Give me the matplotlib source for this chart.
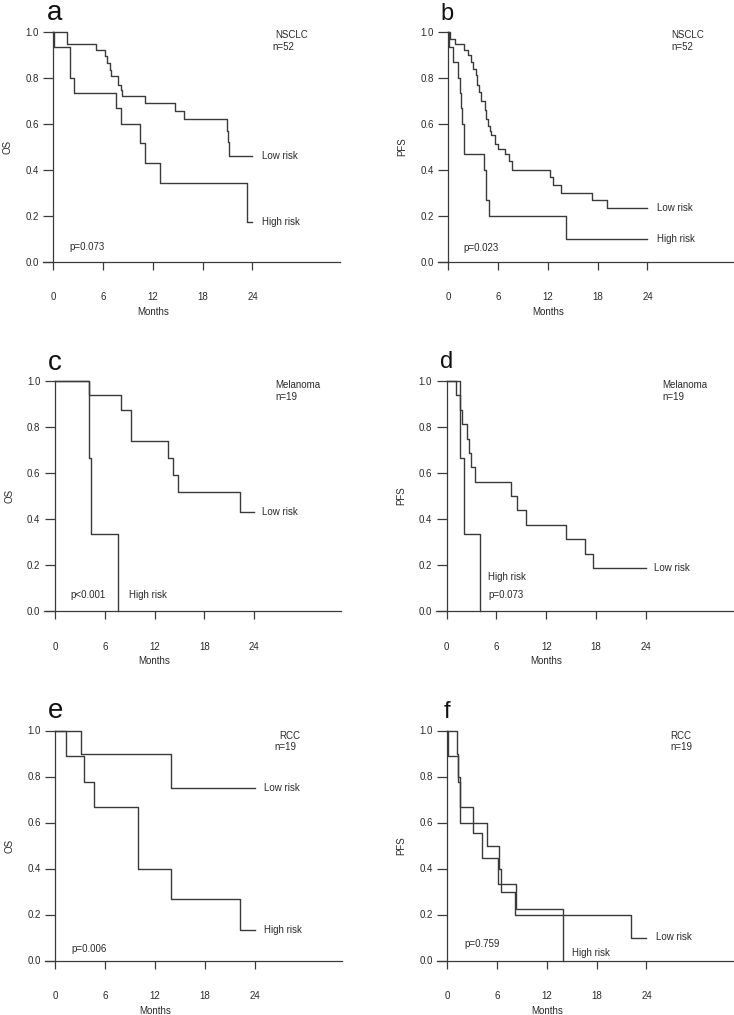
import matplotlib
matplotlib.use('Agg')
import matplotlib.pyplot as plt

plt.rcParams['font.family'] = ['Liberation Sans', 'DejaVu Sans']

# Kaplan-Meier step data (months, survival after each event)
a_low_t = [1.6, 5.1, 6.2, 6.5, 6.8, 7.0, 7.8, 8.1, 8.3, 11.0, 14.7, 15.7, 20.9, 21.0, 21.2]
a_low_s = [0.945, 0.92, 0.895, 0.865, 0.835, 0.808, 0.77, 0.745, 0.72, 0.69, 0.655, 0.62, 0.57, 0.52, 0.46]
a_high_t = [0.05, 2.0, 2.5, 7.55, 8.1, 10.4, 11.0, 12.9, 23.4]
a_high_s = [0.933, 0.80, 0.733, 0.667, 0.60, 0.515, 0.43, 0.343, 0.171]

b_low_t = [0.2, 0.8, 1.9, 2.4, 2.7, 3.0, 3.3, 3.4, 3.75, 4.0, 4.4, 4.55, 4.8, 5.0, 5.2, 5.6,
           6.05, 6.85, 7.26, 7.66, 12.3, 12.6, 13.6, 17.3, 19.1]
b_low_s = [0.97, 0.945, 0.92, 0.90, 0.87, 0.84, 0.81, 0.77, 0.74, 0.70, 0.66, 0.62, 0.59, 0.57,
           0.55, 0.51, 0.49, 0.47, 0.44, 0.40, 0.37, 0.335, 0.30, 0.27, 0.235]
b_high_t = [0.1, 0.6, 1.2, 1.45, 1.5, 1.7, 1.9, 4.35, 4.5, 4.96, 14.2]
b_high_s = [0.933, 0.867, 0.80, 0.733, 0.667, 0.60, 0.467, 0.40, 0.267, 0.20, 0.10]

c_low_t = [4.1, 8.0, 9.16, 13.6, 14.26, 14.86, 22.3]
c_low_s = [0.938, 0.875, 0.74, 0.665, 0.59, 0.516, 0.43]
c_high_t = [4.1, 4.3, 7.6]
c_high_s = [0.667, 0.333, 0.0]

d_low_t = [1.1, 1.6, 1.9, 2.5, 2.7, 2.9, 3.4, 7.8, 8.5, 9.5, 14.4, 16.7, 17.6]
d_low_s = [0.9375, 0.875, 0.8125, 0.75, 0.6875, 0.625, 0.5625, 0.5, 0.4375, 0.375, 0.3125, 0.25, 0.1875]
d_high_t = [1.6, 2.1, 4.0]
d_high_s = [0.667, 0.333, 0.0]

e_low_t = [3.1, 13.9]
e_low_s = [0.90, 0.75]
e_high_t = [1.3, 3.4, 4.6, 10.0, 13.9, 22.2]
e_high_s = [0.889, 0.778, 0.667, 0.40, 0.267, 0.133]

f_low_t = [1.2, 1.35, 1.5, 4.76, 6.25, 6.45, 8.19, 22.1]
f_low_s = [0.9, 0.8, 0.6, 0.5, 0.4, 0.3, 0.2, 0.1]
f_high_t = [0.1, 1.33, 1.53, 3.15, 4.15, 6.17, 8.27, 13.9]
f_high_s = [0.889, 0.778, 0.667, 0.556, 0.444, 0.333, 0.222, 0.0]

end_time = 24.0
month_ticks = [0, 6, 12, 18, 24]
surv_ticks = [0.0, 0.2, 0.4, 0.6, 0.8, 1.0]

panels = [
    # letter, ylabel, cohort, n, p, curves, p pos, label positions
    dict(letter='a', ylab='OS', cohort='NSCLC', n='n=52', p='p=0.073',
         low=(a_low_t, a_low_s), high=(a_high_t, a_high_s),
         ppos=(1.9, 0.065), cpos=(26.7, 0.986), npos=(26.4, 0.934),
         lowpos=(25.1, 0.46), highpos=(25.1, 0.171),
         left=42.5, origin_y=261.7, lsize=20, lx=46.7, ly=20),
    dict(letter='b', ylab='PFS', cohort='NSCLC', n='n=52', p='p=0.023',
         low=(b_low_t, b_low_s), high=(b_high_t, b_high_s),
         ppos=(1.8, 0.06), cpos=(26.9, 0.986), npos=(26.9, 0.934),
         lowpos=(25.1, 0.235), highpos=(25.1, 0.099),
         left=437.5, origin_y=261.7, lsize=17, lx=440, ly=20),
    dict(letter='c', ylab='OS', cohort='Melanoma', n='n=19', p='p<0.001',
         low=(c_low_t, c_low_s), high=(c_high_t, c_high_s),
         ppos=(1.8, 0.07), cpos=(26.5, 0.981), npos=(26.5, 0.93),
         lowpos=(25.0, 0.43), highpos=(8.95, 0.07),
         left=44.2, origin_y=611, lsize=20, lx=48.3, ly=370),
    dict(letter='d', ylab='PFS', cohort='Melanoma', n='n=19', p='p=0.073',
         low=(d_low_t, d_low_s), high=(d_high_t, d_high_s),
         ppos=(5.0, 0.07), cpos=(26.0, 0.981), npos=(26.0, 0.93),
         lowpos=(25.0, 0.1875), highpos=(5.0, 0.149),
         left=435.9, origin_y=611, lsize=17, lx=440, ly=368.3),
    dict(letter='e', ylab='OS', cohort='RCC', n='n=19', p='p=0.006',
         low=(e_low_t, e_low_s), high=(e_high_t, e_high_s),
         ppos=(1.9, 0.05), cpos=(27.0, 0.978), npos=(26.4, 0.93),
         lowpos=(25.1, 0.75), highpos=(25.1, 0.133),
         left=44.7, origin_y=960.5, lsize=20, lx=48.3, ly=718.3),
    dict(letter='f', ylab='PFS', cohort='RCC', n='n=19', p='p=0.759',
         low=(f_low_t, f_low_s), high=(f_high_t, f_high_s),
         ppos=(2.05, 0.072), cpos=(26.9, 0.978), npos=(26.9, 0.93),
         lowpos=(25.1, 0.10), highpos=(15.0, 0.031),
         left=436.5, origin_y=960.5, lsize=17, lx=443.3, ly=718.3),
]

W, H = 734, 1015
line_col = '#3a3a3a'
text_col = '#2a2a2a'
fs = 7

fig = plt.figure(figsize=(W / 100, H / 100), dpi=100)

for pn in panels:
    ax = fig.add_axes([pn['left'] / W, (H - pn['origin_y']) / H, 297.1 / W, 230 / H])
    ax.set_xlim(-1.3, 34.5)
    ax.set_ylim(0, 1)

    for t, s in (pn['low'], pn['high']):
        xs = [0] + list(t) + [end_time]
        ys = [1.0] + list(s) + [s[-1]]
        if s[-1] == 0.0:
            xs = xs[:-1]
            ys = ys[:-1]
        ax.step(xs, ys, where='post', color=line_col, lw=1.0, clip_on=False)

    for side in ('top', 'right'):
        ax.spines[side].set_visible(False)
    ax.spines['left'].set_position(('data', 0))
    ax.spines['bottom'].set_position(('data', 0))
    ax.spines['left'].set_bounds(0, 1)
    for side in ('left', 'bottom'):
        ax.spines[side].set_color(line_col)
        ax.spines[side].set_linewidth(0.9)

    ax.set_xticks(month_ticks)
    ax.set_xticklabels([str(m) for m in month_ticks])
    ax.set_yticks(surv_ticks)
    ax.set_yticklabels(['%.1f' % v for v in surv_ticks])
    ax.tick_params(axis='x', direction='out', length=6, width=0.9, pad=16,
                   labelsize=fs, colors=line_col, labelcolor=text_col)
    ax.tick_params(axis='y', direction='out', length=7, width=0.9, pad=3.5,
                   labelsize=fs, colors=line_col, labelcolor=text_col)

    ax.annotate('Months', xy=(12, 0), xytext=(0, -36), textcoords='offset points',
                ha='center', va='center', fontsize=fs, color=text_col)
    ax.annotate(pn['ylab'], xy=(0, 0.5), xytext=(-33, 0), textcoords='offset points',
                ha='center', va='center', rotation=90, fontsize=fs, color=text_col)

    ax.text(*pn['cpos'], pn['cohort'], ha='left', va='center', fontsize=fs, color=text_col)
    ax.text(*pn['npos'], pn['n'], ha='left', va='center', fontsize=fs, color=text_col)
    ax.text(*pn['ppos'], pn['p'], ha='left', va='center', fontsize=fs, color=text_col)
    ax.text(*pn['lowpos'], 'Low risk', ha='left', va='center', fontsize=fs, color=text_col)
    ax.text(*pn['highpos'], 'High risk', ha='left', va='center', fontsize=fs, color=text_col)

    fig.text(pn['lx'] / W, 1 - pn['ly'] / H, pn['letter'], ha='left', va='baseline',
             fontsize=pn['lsize'], color='#111111')

fig.savefig('out.png', dpi=100, facecolor='white')
